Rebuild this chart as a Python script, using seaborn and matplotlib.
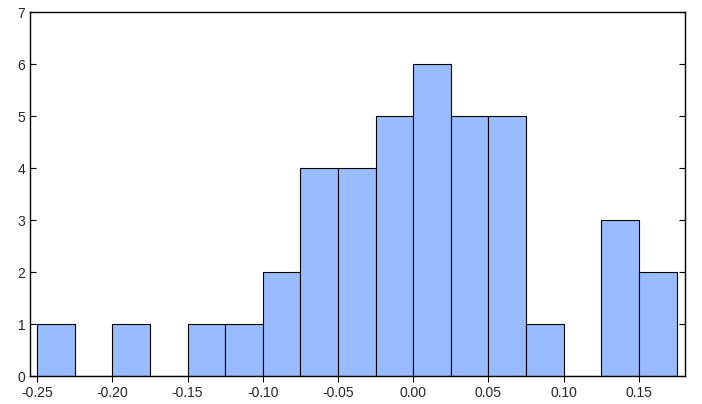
import matplotlib
matplotlib.use("Agg")
import matplotlib.pyplot as plt
import seaborn as sns
import numpy as np

bin_edges = [-0.25,-0.225,-0.2,-0.175,-0.15,-0.125,-0.1,-0.075,-0.05,-0.025,0.0,0.025,0.05,0.075,0.1,0.125,0.15,0.175]
counts = [1,0,1,0,1,1,2,4,4,5,6,5,5,1,0,3,2]
xticks = [-0.25,-0.20,-0.15,-0.10,-0.05,0.00,0.05,0.10,0.15]

sns.set_style("white")
plt.rcParams['font.family'] = ['Liberation Sans', 'DejaVu Sans']
fig = plt.figure(figsize=(7.02,4.04), dpi=100)
ax = fig.add_axes([30/702, 28/404, 655/702, 364/404])
centers = [(bin_edges[i]+bin_edges[i+1])/2 for i in range(len(counts))]
sns.histplot(x=centers, weights=counts, bins=bin_edges, ax=ax,
             color="#99bbff", alpha=1, edgecolor="black", linewidth=0.8)
ax.set_xlim(-0.2547, 0.1806)
ax.set_ylim(0, 7)
ax.set_xticks(xticks)
ax.set_xticklabels([f"{t:.2f}" for t in xticks])
ax.set_yticks(range(8))
ax.set_ylabel(""); ax.set_xlabel("")
for s in ax.spines.values():
    s.set_color("black"); s.set_linewidth(1)
ax.tick_params(direction="out", length=4, color="black", labelsize=10, width=0.8)
ax.tick_params(axis="y", left=True, right=True, direction="in")
ax.tick_params(axis="x", bottom=True)
fig.savefig("out.png", dpi=100)
